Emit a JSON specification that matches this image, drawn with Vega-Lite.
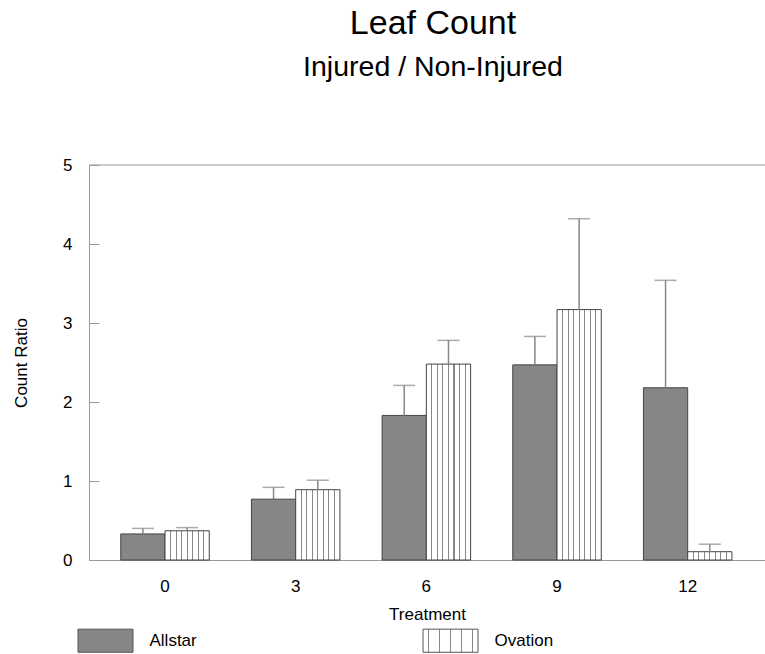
{
  "$schema": "https://vega.github.io/schema/vega-lite/v6.json",
  "autosize": "none",
  "padding": {"left": 89, "top": 165, "right": 0, "bottom": 94},
  "width": 676,
  "height": 395,
  "title": {
    "text": "Leaf Count",
    "subtitle": "Injured / Non-Injured",
    "fontSize": 34,
    "subtitleFontSize": 28.5,
    "fontWeight": "normal",
    "anchor": "middle",
    "frame": "group",
    "offset": 75,
    "dx": 6,
    "subtitlePadding": 12,
    "color": "#000",
    "subtitleColor": "#000",
    "font": "Liberation Sans",
    "subtitleFont": "Liberation Sans"
  },
  "config": {
    "font": "Liberation Sans",
    "view": {"stroke": null},
    "axis": {"grid": false, "domainColor": "#999", "tickColor": "#999", "labelColor": "#000", "titleColor": "#000", "labelFontSize": 17, "titleFontSize": 17, "titleFontWeight": "normal", "labelFont": "Liberation Sans", "titleFont": "Liberation Sans"}
  },
  "resolve": {"axis": {"y": "independent"}},
  "datasets": {
    "bars": [
      {"treatment": 0, "variety": "Allstar", "mean": 0.33, "upper": 0.40},
      {"treatment": 0, "variety": "Ovation", "mean": 0.37, "upper": 0.41},
      {"treatment": 3, "variety": "Allstar", "mean": 0.77, "upper": 0.92},
      {"treatment": 3, "variety": "Ovation", "mean": 0.89, "upper": 1.01},
      {"treatment": 6, "variety": "Allstar", "mean": 1.83, "upper": 2.21},
      {"treatment": 6, "variety": "Ovation", "mean": 2.48, "upper": 2.78},
      {"treatment": 9, "variety": "Allstar", "mean": 2.47, "upper": 2.83},
      {"treatment": 9, "variety": "Ovation", "mean": 3.17, "upper": 4.32},
      {"treatment": 12, "variety": "Allstar", "mean": 2.18, "upper": 3.54},
      {"treatment": 12, "variety": "Ovation", "mean": 0.105, "upper": 0.20}
    ],
    "frame": [{"top": 5}]
  },
  "layer": [
    {
      "data": {"name": "bars"},
      "mark": {"type": "bar", "stroke": "#444", "strokeWidth": 1},
      "encoding": {
        "x": {
          "field": "treatment",
          "type": "ordinal",
          "sort": "ascending",
          "scale": {"paddingInner": 0.3226, "paddingOuter": 0.248, "align": 0.49},
          "axis": {"title": "Treatment", "labelAngle": 0, "ticks": false, "labelPadding": 18, "titlePadding": 12}
        },
        "xOffset": {"field": "variety", "type": "nominal", "scale": {"paddingInner": 0, "paddingOuter": 0}},
        "y": {
          "field": "mean",
          "type": "quantitative",
          "scale": {"domain": [0, 5], "nice": false},
          "axis": {"title": "Count Ratio", "orient": "left", "values": [0, 1, 2, 3, 4, 5], "format": "d", "ticks": false, "labelPadding": 17, "titlePadding": 32}
        },
        "fill": {
          "condition": {
            "test": "datum.variety === 'Ovation'",
            "value": {
              "gradient": "linear", "x1": 0, "y1": 0, "x2": 1, "y2": 0,
              "stops": [
                {"offset": 0, "color": "#fff"},
                {"offset": 0.113, "color": "#fff"}, {"offset": 0.113, "color": "#888"}, {"offset": 0.137, "color": "#888"}, {"offset": 0.137, "color": "#fff"},
                {"offset": 0.238, "color": "#fff"}, {"offset": 0.238, "color": "#888"}, {"offset": 0.262, "color": "#888"}, {"offset": 0.262, "color": "#fff"},
                {"offset": 0.363, "color": "#fff"}, {"offset": 0.363, "color": "#888"}, {"offset": 0.387, "color": "#888"}, {"offset": 0.387, "color": "#fff"},
                {"offset": 0.488, "color": "#fff"}, {"offset": 0.488, "color": "#888"}, {"offset": 0.512, "color": "#888"}, {"offset": 0.512, "color": "#fff"},
                {"offset": 0.613, "color": "#fff"}, {"offset": 0.613, "color": "#888"}, {"offset": 0.637, "color": "#888"}, {"offset": 0.637, "color": "#fff"},
                {"offset": 0.738, "color": "#fff"}, {"offset": 0.738, "color": "#888"}, {"offset": 0.762, "color": "#888"}, {"offset": 0.762, "color": "#fff"},
                {"offset": 0.863, "color": "#fff"}, {"offset": 0.863, "color": "#888"}, {"offset": 0.887, "color": "#888"}, {"offset": 0.887, "color": "#fff"},
                {"offset": 1, "color": "#fff"}
              ]
            }
          },
          "value": "#868686"
        }
      }
    },
    {
      "data": {"name": "bars"},
      "mark": {"type": "rule", "color": "#888", "strokeWidth": 1.5},
      "encoding": {
        "x": {"field": "treatment", "type": "ordinal", "sort": "ascending"},
        "xOffset": {"field": "variety", "type": "nominal"},
        "y": {"field": "mean", "type": "quantitative", "axis": null},
        "y2": {"field": "upper"},
        "opacity": {
          "field": "variety",
          "type": "nominal",
          "scale": {"domain": ["Allstar", "Ovation"], "range": [1, 1]},
          "legend": {
            "title": null,
            "orient": "none",
            "legendX": -11.5,
            "legendY": 447.5,
            "direction": "horizontal",
            "columns": 2,
            "columnPadding": 223,
            "padding": 0,
            "symbolType": "M-1,-0.42H1V0.42H-1Z",
            "symbolSize": 3025,
            "symbolStrokeColor": "#555",
            "symbolStrokeWidth": 1,
            "symbolFillColor": {"expr": "datum.value === 'Ovation' ? {gradient: 'linear', x1: 0, y1: 0, x2: 1, y2: 0, stops: [{offset: 0, color: '#fff'}, {offset: 0.091, color: '#fff'}, {offset: 0.091, color: '#888'}, {offset: 0.109, color: '#888'}, {offset: 0.109, color: '#fff'}, {offset: 0.191, color: '#fff'}, {offset: 0.191, color: '#888'}, {offset: 0.209, color: '#888'}, {offset: 0.209, color: '#fff'}, {offset: 0.291, color: '#fff'}, {offset: 0.291, color: '#888'}, {offset: 0.309, color: '#888'}, {offset: 0.309, color: '#fff'}, {offset: 0.391, color: '#fff'}, {offset: 0.391, color: '#888'}, {offset: 0.409, color: '#888'}, {offset: 0.409, color: '#fff'}, {offset: 0.491, color: '#fff'}, {offset: 0.491, color: '#888'}, {offset: 0.509, color: '#888'}, {offset: 0.509, color: '#fff'}, {offset: 0.591, color: '#fff'}, {offset: 0.591, color: '#888'}, {offset: 0.609, color: '#888'}, {offset: 0.609, color: '#fff'}, {offset: 0.691, color: '#fff'}, {offset: 0.691, color: '#888'}, {offset: 0.709, color: '#888'}, {offset: 0.709, color: '#fff'}, {offset: 0.791, color: '#fff'}, {offset: 0.791, color: '#888'}, {offset: 0.809, color: '#888'}, {offset: 0.809, color: '#fff'}, {offset: 0.891, color: '#fff'}, {offset: 0.891, color: '#888'}, {offset: 0.909, color: '#888'}, {offset: 0.909, color: '#fff'}, {offset: 1, color: '#fff'}]} : '#868686'"},
            "labelFontSize": 17,
            "labelFont": "Liberation Sans",
            "labelColor": "#000",
            "labelOffset": 16
          }
        }
      }
    },
    {
      "data": {"name": "bars"},
      "mark": {"type": "tick", "orient": "horizontal", "size": 22, "thickness": 1.5, "color": "#888"},
      "encoding": {
        "x": {"field": "treatment", "type": "ordinal", "sort": "ascending"},
        "xOffset": {"field": "variety", "type": "nominal"},
        "y": {"field": "upper", "type": "quantitative", "axis": null}
      }
    },
    {
      "data": {"name": "frame"},
      "mark": {"type": "rule", "color": "#999", "strokeWidth": 1},
      "encoding": {
        "y": {
          "field": "top",
          "type": "quantitative",
          "axis": {"orient": "left", "offset": -10, "domain": false, "labels": false, "ticks": true, "tickSize": 10, "title": null, "values": [0, 1, 2, 3, 4, 5]}
        }
      }
    }
  ]
}
